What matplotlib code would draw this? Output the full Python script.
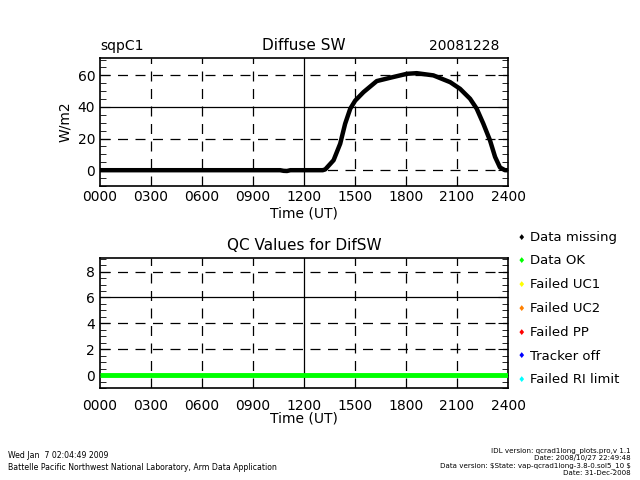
import matplotlib.pyplot as plt
from matplotlib.ticker import MultipleLocator

# ---- data ----
hours = [0.0, 10.6, 10.8, 11.0, 11.2, 13.1, 13.25, 13.74, 14.13, 14.42, 14.72,
         15.01, 15.5, 16.28, 17.07, 18.05, 18.63, 19.61, 20.6, 21.18, 21.77,
         22.16, 22.55, 22.94, 23.24, 23.53, 23.82, 24.0]
difsw = [0.0, 0.0, -0.4, -0.5, 0.0, 0.0, 0.5, 6.3, 16.8, 29.4, 38.9,
         44.0, 49.4, 56.4, 58.5, 61.0, 61.4, 60.0, 55.7, 51.5, 45.2,
         38.9, 29.4, 18.9, 8.4, 1.7, 0.0, 0.0]

qc_hours = [0.0, 24.0]
qc_values = [0, 0]

xticks = [0, 3, 6, 9, 12, 15, 18, 21, 24]
xlabels = ["0000", "0300", "0600", "0900", "1200", "1500", "1800", "2100", "2400"]

legend_labels = ["Data missing", "Data OK", "Failed UC1", "Failed UC2",
                 "Failed PP", "Tracker off", "Failed RI limit"]
legend_colors = ["black", "#00ff00", "#ffff00", "#ff8000", "#ff0000",
                 "#0000ff", "#00ffff"]

fig = plt.figure(figsize=(6.4, 4.8), dpi=100)
W, H = 640, 480


def make_axes(left, top, right, bottom):
    return fig.add_axes([left / W, 1 - bottom / H, (right - left) / W, (bottom - top) / H])


def style(ax, ylim, major, minor, solid_y, xpad, lpad):
    ax.set_xlim(0, 24)
    ax.set_ylim(*ylim)
    ax.set_xticks(xticks)
    ax.set_xticklabels(xlabels, fontsize=10)
    ax.yaxis.set_major_locator(MultipleLocator(major))
    ax.yaxis.set_minor_locator(MultipleLocator(minor))
    ax.tick_params(axis="x", length=0, pad=xpad)
    ax.tick_params(axis="y", which="major", length=7, direction="in",
                   left=True, right=True, labelsize=10)
    ax.tick_params(axis="y", which="minor", length=4, direction="in",
                   left=True, right=True)
    for s in ax.spines.values():
        s.set_linewidth(1.2)
    for x in xticks[1:-1]:
        ls = "-" if x == 12 else (0, (8, 6))
        ax.axvline(x, color="black", lw=0.9, ls=ls, zorder=1)
    y = major
    while y < ylim[1]:
        if y > ylim[0]:
            ls = "-" if abs(y - solid_y) < 1e-9 else (0, (8, 6))
            ax.axhline(y, color="black", lw=0.9, ls=ls, zorder=1)
        y += major
    ax.axhline(0, color="black", lw=0.9, ls=(0, (8, 6)), zorder=1)
    ax.set_xlabel("Time (UT)", fontsize=10, labelpad=lpad)


# top panel
ax1 = make_axes(100, 58, 508, 186)
style(ax1, (-10, 71), 20, 5, 40, 3, 2)
ax1.plot(hours, difsw, color="black", lw=3.2, zorder=3)
ax1.set_ylabel("W/m2", fontsize=10, labelpad=4)
ax1.set_title("Diffuse SW", fontsize=11, pad=6)
ax1.text(0.0, 1.04, "sqpC1", transform=ax1.transAxes, fontsize=10,
         ha="left", va="bottom")
ax1.text(0.98, 1.04, "20081228", transform=ax1.transAxes, fontsize=10,
         ha="right", va="bottom")

# bottom panel
ax2 = make_axes(100, 258, 508, 388)
style(ax2, (-1, 9.05), 2, 0.5, 6, 8, -1)
ax2.plot(qc_hours, qc_values, color="#00ff00", lw=3.5, zorder=3,
         solid_capstyle="butt")
ax2.set_title("QC Values for DifSW", fontsize=11, pad=6)

# legend
for i, (lab, col) in enumerate(zip(legend_labels, legend_colors)):
    yy = 237 + i * 23.8
    fig.text(521 / W, 1 - yy / H, "\u2666", color=col, fontsize=6,
             ha="center", va="center")
    fig.text(530 / W, 1 - yy / H, lab, fontsize=9.5, ha="left", va="center")

# footer
fig.text(8 / W, 1 - 456 / H, "Wed Jan  7 02:04:49 2009", fontsize=5.6, va="center")
fig.text(8 / W, 1 - 467 / H,
         "Battelle Pacific Northwest National Laboratory, Arm Data Application",
         fontsize=5.6, va="center")
right_lines = ["IDL version: qcrad1long_plots.pro,v 1.1",
               "Date: 2008/10/27 22:49:48",
               r"Data version: \$State: vap-qcrad1long-3.8-0.sol5_10 \$",
               "Date: 31-Dec-2008"]
for i, t in enumerate(right_lines):
    fig.text(631 / W, 1 - (451 + i * 7.4) / H, t, fontsize=5.1,
             ha="right", va="center")

fig.savefig("out.png", dpi=100)
